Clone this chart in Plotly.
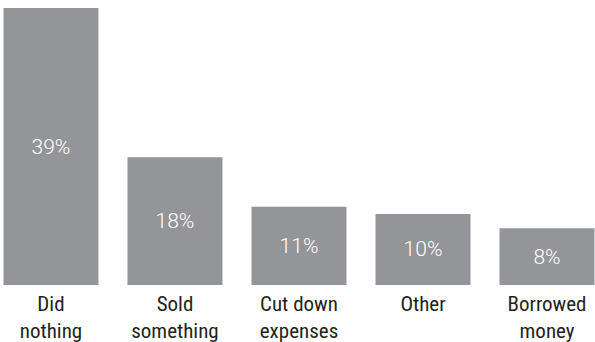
import plotly.graph_objects as go

categories = ["Did<br>nothing", "Sold<br>something", "Cut down<br>expenses", "Other", "Borrowed<br>money"]
values = [39, 18, 11, 10, 8]
labels = ["39%", "18%", "11%", "10%", "8%"]

fig = go.Figure(go.Bar(
    x=list(range(len(categories))),
    y=values,
    text=labels,
    textposition="inside",
    insidetextanchor="middle",
    textfont=dict(color="white", size=21, family="Roboto", weight=300),
    marker=dict(color="#939598", line=dict(width=0)),
    width=0.766,
    hoverinfo="skip",
))

fig.update_layout(
    width=595, height=342,
    margin=dict(l=0, r=0, t=8, b=57, autoexpand=False),
    paper_bgcolor="white", plot_bgcolor="white",
    showlegend=False,
    uniformtext=dict(minsize=8, mode="show"),
)
fig.update_xaxes(
    range=[-0.411, 4.387],
    tickmode="array",
    tickvals=list(range(len(categories))),
    ticktext=categories,
    tickfont=dict(size=21, color="#231f20", family="Roboto Condensed"),
    showgrid=False, zeroline=False, showline=False, ticks="",
    ticklabelstandoff=4,
    automargin=False,
)
fig.update_yaxes(range=[0, 39], visible=False, showgrid=False, zeroline=False, automargin=False)

fig.write_html("out.html", config={"displayModeBar": False},
               post_script="document.body.style.margin='0';")
